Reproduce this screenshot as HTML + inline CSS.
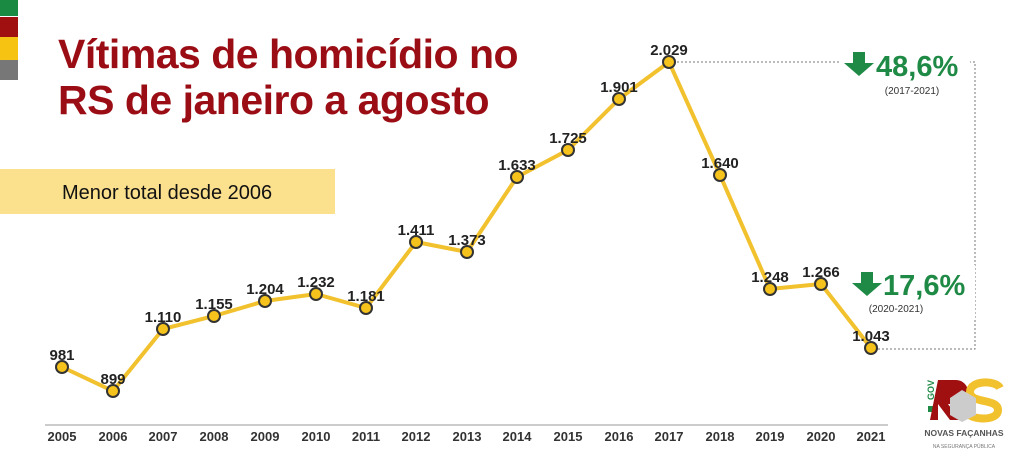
<!DOCTYPE html>
<html><head><meta charset="utf-8"><style>
body{margin:0;width:1024px;height:470px;background:#fff;overflow:hidden;font-family:"Liberation Sans",sans-serif}
</style></head><body>
<svg width="1024" height="470" xmlns="http://www.w3.org/2000/svg" style="position:absolute;left:0;top:0">
<rect x="0" y="0" width="18" height="16" fill="#1a8a43"/>
<rect x="0" y="17" width="18" height="20" fill="#a01010"/>
<rect x="0" y="37" width="18" height="23" fill="#f6c312"/>
<rect x="0" y="60" width="18" height="20" fill="#777"/>
<text x="58" y="68" font-size="41" font-weight="bold" fill="#9b0d14" letter-spacing="-0.5">Vítimas de homicídio no</text>
<text x="58" y="114" font-size="41" font-weight="bold" fill="#9b0d14" letter-spacing="-0.5">RS de janeiro a agosto</text>
<rect x="0" y="169" width="335" height="45" fill="#fbe08e"/>
<text x="62" y="199" font-size="20" fill="#111">Menor total desde 2006</text>
<line x1="45" y1="425" x2="888" y2="425" stroke="#bbb" stroke-width="1.5"/>
<polyline points="669,62 975,62 975,349 871,349" fill="none" stroke="#777" stroke-width="1" stroke-dasharray="2,2"/>
<rect x="840" y="45" width="130" height="55" fill="#fff"/>
<rect x="835" y="265" width="140" height="55" fill="#fff"/>
<polyline fill="none" stroke="#f2c12e" stroke-width="4" points="62,367 113,391 163,329 214,316 265,301 316,294 366,308 416,242 467,252 517,177 568,150 619,99 669,62 720,175 770,289 821,284 871,348"/>
<g fill="#f6c21c" stroke="#333" stroke-width="2">
<circle cx="62" cy="367" r="6"/><circle cx="113" cy="391" r="6"/><circle cx="163" cy="329" r="6"/><circle cx="214" cy="316" r="6"/><circle cx="265" cy="301" r="6"/><circle cx="316" cy="294" r="6"/><circle cx="366" cy="308" r="6"/><circle cx="416" cy="242" r="6"/><circle cx="467" cy="252" r="6"/><circle cx="517" cy="177" r="6"/><circle cx="568" cy="150" r="6"/><circle cx="619" cy="99" r="6"/><circle cx="669" cy="62" r="6"/><circle cx="720" cy="175" r="6"/><circle cx="770" cy="289" r="6"/><circle cx="821" cy="284" r="6"/><circle cx="871" cy="348" r="6"/>
</g>
<g font-size="15" font-weight="bold" fill="#222" text-anchor="middle">
<text x="62" y="360">981</text><text x="113" y="384">899</text><text x="163" y="322">1.110</text><text x="214" y="309">1.155</text><text x="265" y="294">1.204</text><text x="316" y="287">1.232</text><text x="366" y="301">1.181</text><text x="416" y="235">1.411</text><text x="467" y="245">1.373</text><text x="517" y="170">1.633</text><text x="568" y="143">1.725</text><text x="619" y="92">1.901</text><text x="669" y="55">2.029</text><text x="720" y="168">1.640</text><text x="770" y="282">1.248</text><text x="821" y="277">1.266</text><text x="871" y="341">1.043</text>
</g>
<g font-size="13" font-weight="bold" fill="#333" text-anchor="middle">
<text x="62" y="441">2005</text><text x="113" y="441">2006</text><text x="163" y="441">2007</text><text x="214" y="441">2008</text><text x="265" y="441">2009</text><text x="316" y="441">2010</text><text x="366" y="441">2011</text><text x="416" y="441">2012</text><text x="467" y="441">2013</text><text x="517" y="441">2014</text><text x="568" y="441">2015</text><text x="619" y="441">2016</text><text x="669" y="441">2017</text><text x="720" y="441">2018</text><text x="770" y="441">2019</text><text x="821" y="441">2020</text><text x="871" y="441">2021</text>
</g>
<polygon points="853,52 865,52 865,63 874,63 859,76 844,63 853,63" fill="#1e8a45"/>
<text x="876" y="76" font-size="29" font-weight="bold" fill="#1e8a45">48,6%</text>
<text x="912" y="94" font-size="10" fill="#333" text-anchor="middle">(2017-2021)</text>
<polygon points="861,272 873,272 873,283 882,283 867,296 852,283 861,283" fill="#1e8a45"/>
<text x="883" y="295" font-size="29" font-weight="bold" fill="#1e8a45">17,6%</text>
<text x="896" y="312" font-size="10" fill="#333" text-anchor="middle">(2020-2021)</text>
<rect x="928" y="406" width="6" height="6" fill="#1e8a45"/>
<text x="934" y="400" font-size="9" font-weight="bold" fill="#1e8a45" transform="rotate(-90 934 400)">GOV</text>
<path d="M938 380 h18 a12 12 0 0 1 0 24 h-8 l12 16 h-10 l-12 -16 v16 h-8z" fill="#a01010"/>
<path d="M1000 388 c-4 -8 -30 -8 -30 4 c0 12 28 6 28 18 c0 12 -28 10 -32 2" fill="none" stroke="#f2c12e" stroke-width="8"/>
<polygon points="950,398 962,390 976,398 976,415 962,422 950,415" fill="#ccc"/>
<text x="964" y="436" font-size="8.5" font-weight="bold" fill="#555" text-anchor="middle">NOVAS FAÇANHAS</text>
<text x="964" y="448" font-size="5" fill="#777" text-anchor="middle">NA SEGURANÇA PÚBLICA</text>
</svg>
</body></html>
